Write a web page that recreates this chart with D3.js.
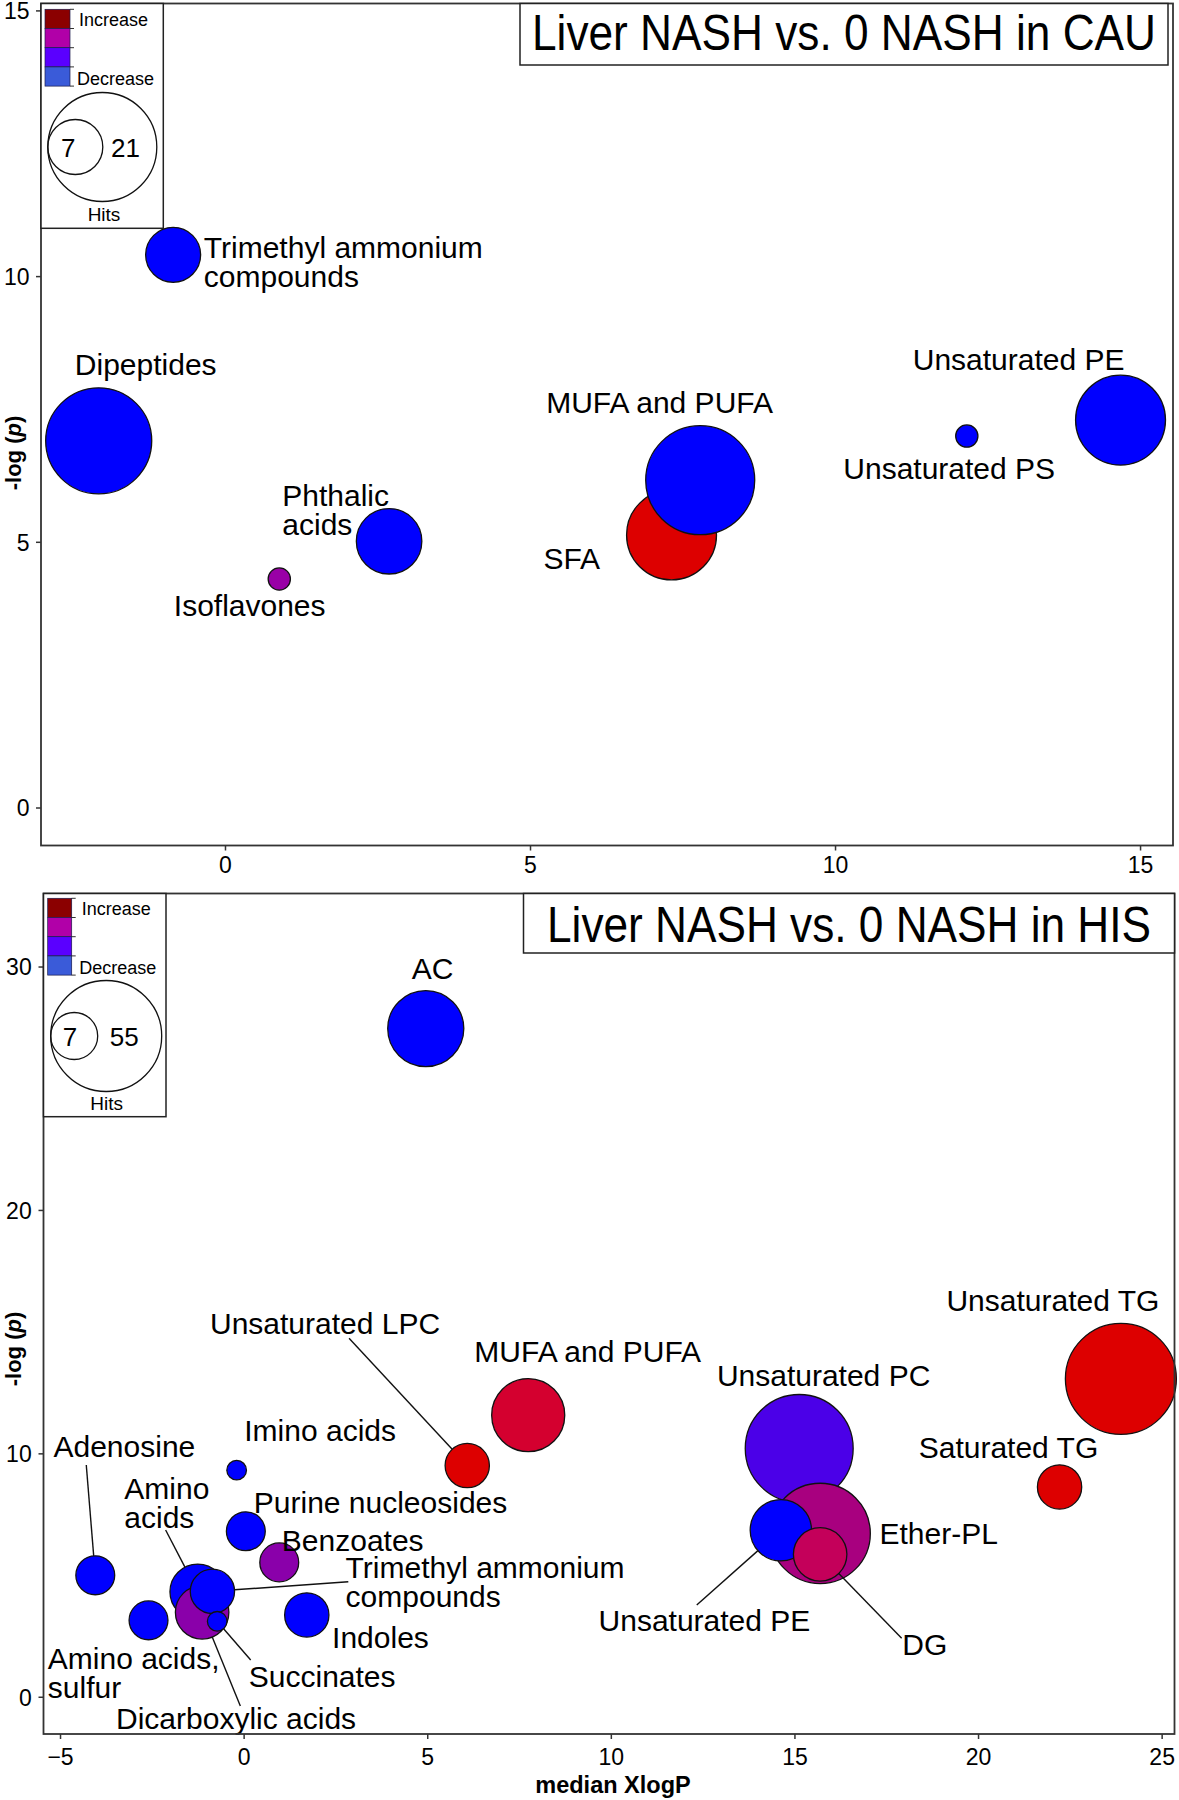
<!DOCTYPE html>
<html>
<head>
<meta charset="utf-8">
<script src="https://cdn.jsdelivr.net/npm/d3@7"></script>
<style>
  body { margin: 0; background: #fff; }
  svg { display: block; }
  text { font-family: "Liberation Sans", Arial, Helvetica, sans-serif; fill: #000; }
</style>
</head>
<body>
<svg id="chart" width="1179" height="1800"></svg>
<script>
// ---------------- DATA : CAU panel ----------------
const cauTitle = "Liver NASH vs. 0 NASH in CAU";
const cauNames = ["Trimethyl ammonium compounds", "Dipeptides", "Phthalic acids", "Isoflavones",
                  "SFA", "MUFA and PUFA", "Unsaturated PS", "Unsaturated PE"];
const cauXlogP = [-0.85, -2.07, 2.69, 0.89, 7.32, 7.79, 12.16, 14.68];
const cauNegLogP = [10.40, 6.90, 5.01, 4.30, 5.13, 6.16, 6.99, 7.29];
const cauHits = [7, 20, 9, 3, 15, 21, 3, 15];
const cauIncreaseRatio = [0, 0, 0, 0.55, 1, 0, 0, 0];
const cauXTicks = [0, 5, 10, 15];
const cauYTicks = [0, 5, 10, 15];
const cauLegendHits = [7, 21];

// ---------------- DATA : HIS panel ----------------
const hisTitle = "Liver NASH vs. 0 NASH in HIS";
const hisNames = ["AC", "Unsaturated TG", "Saturated TG", "Unsaturated PC", "Ether-PL", "Unsaturated PE", "DG",
                  "MUFA and PUFA", "Unsaturated LPC", "Imino acids", "Purine nucleosides", "Benzoates",
                  "Adenosine", "Amino acids, sulfur", "Amino acids", "Dicarboxylic acids",
                  "Trimethyl ammonium compounds", "Succinates", "Indoles"];
const hisXlogP = [4.96, 23.89, 22.22, 15.13, 15.70, 14.63, 15.70, 7.75, 6.09, -0.19, 0.06, 0.97,
                  -4.04, -2.59, -1.25, -1.13, -0.85, -0.72, 1.72];
const hisNegLogP = [27.45, 13.06, 8.62, 10.20, 6.71, 6.84, 5.85, 11.57, 9.50, 9.31, 6.80, 5.52,
                    4.99, 3.14, 4.31, 3.47, 4.33, 3.10, 3.36];
const hisHits = [26, 55, 9, 52, 45, 17, 13, 24, 9, 2, 7, 7, 7, 7, 14, 13, 9, 2, 9];
const hisIncreaseRatio = [0, 1, 1, 0.3, 0.65, 0, 0.8, 0.9, 1, 0, 0, 0.5, 0, 0, 0, 0.5, 0, 0, 0];
const hisXTicks = [-5, 0, 5, 10, 15, 20, 25];
const hisYTicks = [0, 10, 20, 30];
const hisLegendHits = [7, 55];

const legendLabels = ["Increase", "Decrease"];
const xAxisTitle = "median XlogP";

// ---------------- LAYOUT / STYLE ----------------
const ratioColor = d3.scaleLinear()
  .domain([0, 0.3, 0.5, 0.55, 0.65, 0.8, 0.9, 1])
  .range(["#0000ff", "#4b00e8", "#8a00aa", "#9900a6", "#a8007f", "#c4005a", "#d4002f", "#dd0000"]);
const legendSwatches = ["#8b0000", "#b100a8", "#5a00ff", "#3a5bd9"];

const LABEL_FS = 30, LINE_GAP = 29, CAP = 0.358, TICK_FS = 23, TITLE_FS = 50;

const cauLabelLayout = [
  {dx: 30.7, dy: -8, anchor: "start", br: 2},
  {dx: 47, dy: -76.6},
  {dx: -106.8, dy: -46.3, anchor: "start", br: 1},
  {dx: -29.6, dy: 26.3},
  {dx: -99.8, dy: 23},
  {dx: -40.6, dy: -78.1},
  {dx: -17.6, dy: 32.2},
  {dx: -101.9, dy: -60.9}
];
const hisLabelLayout = [
  {dx: 6.9, dy: -60.8},
  {dx: -68, dy: -78.8},
  {dx: -51.1, dy: -40.1},
  {dx: 24.4, dy: -73.5},
  {dx: 59.3, dy: 0, anchor: "start"},
  {dx: -76.4, dy: 89.8, lx: -84.1, ly: 74.8},
  {dx: 104.6, dy: 89.4, lx: 81.5, ly: 84},
  {dx: 59.5, dy: -64},
  {dx: -142.2, dy: -142.5, lx: -118.2, ly: -127.2},
  {dx: 83.5, dy: -40.2},
  {dx: 134.7, dy: -28.8},
  {dx: 2.6, dy: -22.3, anchor: "start"},
  {dx: 29.1, dy: -128.6, lx: -9, ly: -110.3},
  {dx: -100.7, dy: 38, anchor: "start", br: 2},
  {dx: -73.4, dy: -103.5, anchor: "start", br: 1, lx: -32.1, ly: -61.8},
  {dx: -86.1, dy: 106, anchor: "start", lx: 38.2, ly: 93.7},
  {dx: 133.2, dy: -24.6, anchor: "start", br: 2, lx: 135.9, ly: -9.6},
  {dx: 31.6, dy: 55.4, anchor: "start", lx: 33.5, ly: 38.7},
  {dx: 25.3, dy: 21.9, anchor: "start"}
];

const panels = [
  {
    title: cauTitle, names: cauNames, xs: cauXlogP, ys: cauNegLogP, hits: cauHits, ratio: cauIncreaseRatio,
    xTicks: cauXTicks, yTicks: cauYTicks, legendHits: cauLegendHits, layout: cauLabelLayout,
    xDomain: [-3.016, 15.54], yDomain: [-0.715, 15.13],
    rect: {l: 41, r: 1173, t: 3.5, b: 845.5},
    sizeDomain: [7, 21], sizeRange: [27.5, 54.5],
    titleBox: {l: 520, r: 1168, t: 3.5, b: 65}, titleY: 32, titleW: 624,
    legend: {l: 41, r: 163.3, t: 3.5, b: 228.3, barX: 45, barW: 25, barT: 9.3, barH: 19.2,
             incX: 79, incY: 19.5, decX: 77, decY: 79,
             bigC: [102.3, 147], bigR: 54.5, smallR: 27.5, n1: [68.3, 148], n2: [125.5, 148], hits: [104, 214]},
    yTitleY: 453, xTitle: false, xTickY: 865, yTickEnd: 29.5
  },
  {
    title: hisTitle, names: hisNames, xs: hisXlogP, ys: hisNegLogP, hits: hisHits, ratio: hisIncreaseRatio,
    xTicks: hisXTicks, yTicks: hisYTicks, legendHits: hisLegendHits, layout: hisLabelLayout,
    xDomain: [-5.45, 25.35], yDomain: [-1.53, 33.0],
    rect: {l: 43.5, r: 1174.5, t: 893.5, b: 1734},
    sizeDomain: [2, 55], sizeRange: [9.8, 55.5],
    titleBox: {l: 523.5, r: 1174.5, t: 893.5, b: 953}, titleY: 924, titleW: 604,
    legend: {l: 43.5, r: 166, t: 893.5, b: 1116.7, barX: 47.7, barW: 24, barT: 898.3, barH: 19.2,
             incX: 81.7, incY: 908.3, decX: 79.3, decY: 967.3,
             bigC: [106.2, 1036], bigR: 55.5, smallR: 23.5, n1: [70, 1036.7], n2: [124.2, 1036.7], hits: [106.7, 1103.3]},
    yTitleY: 1349, xTitle: true, xTickY: 1757, yTickEnd: 31.7
  }
];

const svg = d3.select("#chart");
svg.append("rect").attr("width", 1179).attr("height", 1800).attr("fill", "#fff");

panels.forEach(P => {
  const g = svg.append("g");
  const R = P.rect;
  const x = d3.scaleLinear().domain(P.xDomain).range([R.l, R.r]);
  const y = d3.scaleLinear().domain(P.yDomain).range([R.b, R.t]);
  const area = d3.scaleLinear().domain(P.sizeDomain).range(P.sizeRange.map(r => r * r));
  const rad = h => Math.sqrt(Math.max(area(h), 4));

  // axes
  const xAxis = d3.axisBottom(x).tickValues(P.xTicks).tickSize(5).tickFormat(d3.format("d"));
  const gx = g.append("g").attr("transform", `translate(0,${R.b})`).call(xAxis);
  gx.select(".domain").remove();
  gx.selectAll(".tick line").attr("stroke", "#333").attr("stroke-width", 1.5);
  gx.selectAll(".tick text").attr("dy", null)
    .attr("y", P.xTickY - R.b + CAP * TICK_FS)
    .attr("font-size", TICK_FS).attr("fill", "#111")
    .attr("font-family", '"Liberation Sans", Arial, sans-serif');

  const yAxis = d3.axisLeft(y).tickValues(P.yTicks).tickSize(5).tickFormat(d3.format("d"));
  const gy = g.append("g").attr("transform", `translate(${R.l},0)`).call(yAxis);
  gy.select(".domain").remove();
  gy.selectAll(".tick line").attr("stroke", "#333").attr("stroke-width", 1.5);
  gy.selectAll(".tick text").attr("x", P.yTickEnd - R.l).attr("dy", "0.36em")
    .attr("font-size", TICK_FS).attr("fill", "#111")
    .attr("font-family", '"Liberation Sans", Arial, sans-serif');

  // bubbles
  const idx = d3.range(P.names.length);
  g.append("g").selectAll("circle").data(idx).join("circle")
    .attr("cx", i => x(P.xs[i])).attr("cy", i => y(P.ys[i])).attr("r", i => rad(P.hits[i]))
    .attr("fill", i => ratioColor(P.ratio[i]))
    .attr("stroke", "#111").attr("stroke-width", 1.3);

  // leader lines + labels
  const lg = g.append("g");
  idx.forEach(i => {
    const L = P.layout[i];
    const cx = x(P.xs[i]), cy = y(P.ys[i]), r = rad(P.hits[i]);
    if (L.lx !== undefined) {
      const sx = cx + L.lx, sy = cy + L.ly;
      const d = Math.hypot(L.lx, L.ly);
      lg.append("line")
        .attr("x1", sx).attr("y1", sy)
        .attr("x2", cx + L.lx / d * r).attr("y2", cy + L.ly / d * r)
        .attr("stroke", "#111").attr("stroke-width", 1.4);
    }
    const words = P.names[i].split(" ");
    const lines = L.br ? [words.slice(0, L.br).join(" "), words.slice(L.br).join(" ")] : [P.names[i]];
    const t = lg.append("text")
      .attr("x", cx + L.dx).attr("y", cy + L.dy + CAP * LABEL_FS)
      .attr("text-anchor", L.anchor || "middle")
      .attr("font-size", LABEL_FS);
    lines.forEach((ln, k) => t.append("tspan").attr("x", cx + L.dx).attr("dy", k ? LINE_GAP : 0).text(ln));
  });

  // panel border
  g.append("rect").attr("x", R.l).attr("y", R.t).attr("width", R.r - R.l).attr("height", R.b - R.t)
    .attr("fill", "none").attr("stroke", "#333").attr("stroke-width", 1.8);

  // title box
  const T = P.titleBox;
  g.append("rect").attr("x", T.l).attr("y", T.t).attr("width", T.r - T.l).attr("height", T.b - T.t)
    .attr("fill", "#fff").attr("stroke", "#222").attr("stroke-width", 1.5);
  g.append("text").attr("x", (T.l + T.r) / 2).attr("y", P.titleY + CAP * TITLE_FS)
    .attr("text-anchor", "middle").attr("font-size", TITLE_FS)
    .attr("textLength", P.titleW).attr("lengthAdjust", "spacingAndGlyphs")
    .text(P.title);

  // legend
  const Lg = P.legend;
  g.append("rect").attr("x", Lg.l).attr("y", Lg.t).attr("width", Lg.r - Lg.l).attr("height", Lg.b - Lg.t)
    .attr("fill", "#fff").attr("stroke", "#222").attr("stroke-width", 1.5);
  legendSwatches.forEach((c, k) => {
    g.append("rect").attr("x", Lg.barX).attr("y", Lg.barT + k * Lg.barH).attr("width", Lg.barW).attr("height", Lg.barH)
      .attr("fill", c).attr("stroke", "#1a1a4a").attr("stroke-width", 0.7);
  });
  d3.range(5).forEach(k => {
    g.append("line").attr("x1", Lg.barX + Lg.barW).attr("x2", Lg.barX + Lg.barW + 4)
      .attr("y1", Lg.barT + k * Lg.barH).attr("y2", Lg.barT + k * Lg.barH)
      .attr("stroke", "#333").attr("stroke-width", 1);
  });
  g.append("text").attr("x", Lg.incX).attr("y", Lg.incY + CAP * 18).attr("font-size", 18).text(legendLabels[0]);
  g.append("text").attr("x", Lg.decX).attr("y", Lg.decY + CAP * 18).attr("font-size", 18).text(legendLabels[1]);
  g.append("circle").attr("cx", Lg.bigC[0]).attr("cy", Lg.bigC[1]).attr("r", Lg.bigR)
    .attr("fill", "none").attr("stroke", "#111").attr("stroke-width", 1.3);
  g.append("circle").attr("cx", Lg.bigC[0] - Lg.bigR + Lg.smallR).attr("cy", Lg.bigC[1]).attr("r", Lg.smallR)
    .attr("fill", "none").attr("stroke", "#111").attr("stroke-width", 1.3);
  g.append("text").attr("x", Lg.n1[0]).attr("y", Lg.n1[1] + CAP * 26).attr("text-anchor", "middle")
    .attr("font-size", 26).text(P.legendHits[0]);
  g.append("text").attr("x", Lg.n2[0]).attr("y", Lg.n2[1] + CAP * 26).attr("text-anchor", "middle")
    .attr("font-size", 26).text(P.legendHits[1]);
  g.append("text").attr("x", Lg.hits[0]).attr("y", Lg.hits[1] + CAP * 19).attr("text-anchor", "middle")
    .attr("font-size", 19).text("Hits");

  // y axis title
  const yt = g.append("text").attr("transform", `translate(${13.3 + CAP * 22},${P.yTitleY}) rotate(-90)`)
    .attr("text-anchor", "middle").attr("font-size", 22).attr("font-weight", "bold");
  yt.append("tspan").text("-log (");
  yt.append("tspan").attr("font-style", "italic").text("p");
  yt.append("tspan").text(")");

  if (P.xTitle) {
    g.append("text").attr("x", 613).attr("y", 1785 + CAP * 23.5).attr("text-anchor", "middle")
      .attr("font-size", 23.5).attr("font-weight", "bold").text(xAxisTitle);
  }
});
</script>
</body>
</html>
